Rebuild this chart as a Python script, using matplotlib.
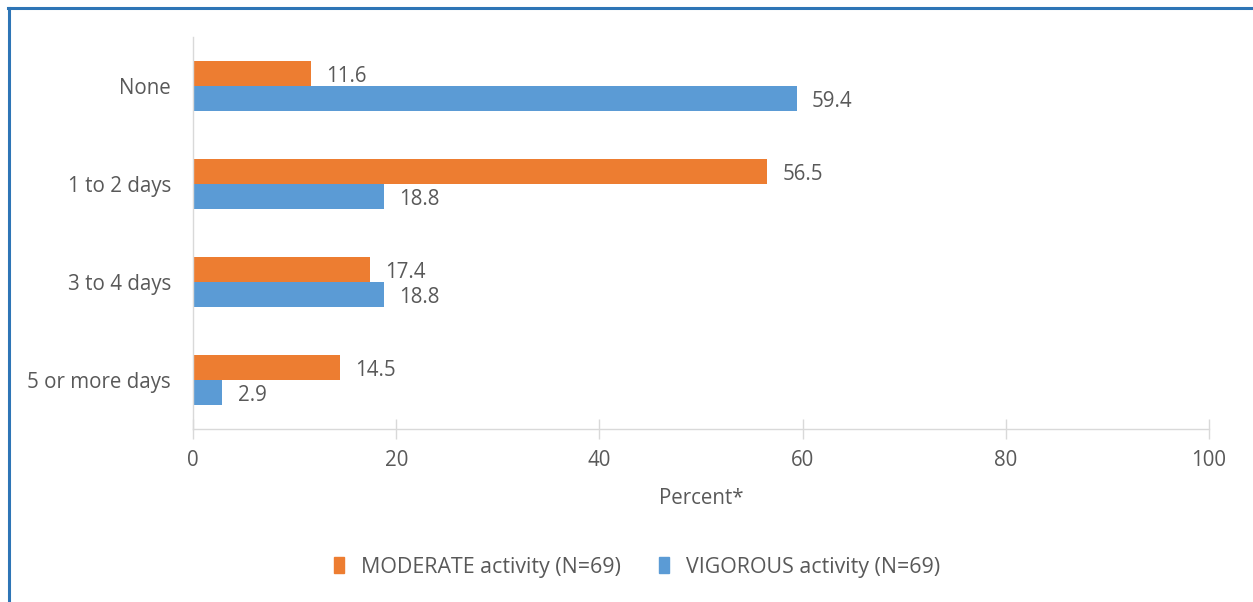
import matplotlib
matplotlib.use("Agg")
import matplotlib.pyplot as plt
import numpy as np
from matplotlib.lines import Line2D
from matplotlib.patches import Patch

categories = ["None", "1 to 2 days", "3 to 4 days", "5 or more days"]
moderate = [11.6, 56.5, 17.4, 14.5]
vigorous = [59.4, 18.8, 18.8, 2.9]
series_names = ["MODERATE activity (N=69)", "VIGOROUS activity (N=69)"]
xticks = [0, 20, 40, 60, 80, 100]

plt.rcParams['font.family'] = ['Open Sans', 'DejaVu Sans']
TXT = '#595959'
ORANGE = '#ED7D31'
BLUE = '#5B9BD5'
GRID = '#D9D9D9'
FS = 14.8

W, H = 1253, 602
fig = plt.figure(figsize=(W / 100, H / 100), dpi=100)
ax = fig.add_axes([193 / W, 1 - 429 / H, (1209 - 193) / W, (429 - 37) / H])

y = np.arange(len(categories))
h = 0.255
ax.barh(y - h / 2, moderate, height=h, color=ORANGE, label=series_names[0])
ax.barh(y + h / 2, vigorous, height=h, color=BLUE, label=series_names[1])

for yi, v in zip(y, moderate):
    ax.annotate(f"{v:.1f}", (v, yi - h / 2), xytext=(11, -2), textcoords='offset points',
                va='center', ha='left', fontsize=FS, color=TXT)
for yi, v in zip(y, vigorous):
    ax.annotate(f"{v:.1f}", (v, yi + h / 2), xytext=(11, -2), textcoords='offset points',
                va='center', ha='left', fontsize=FS, color=TXT)

ax.set_ylim(len(categories) - 0.5, -0.5)
ax.set_xlim(0, 100)
ax.set_yticks(y)
ax.set_yticklabels(categories, fontsize=FS, color=TXT)
ax.set_xticks(xticks)
ax.set_xticklabels([str(t) for t in xticks], fontsize=FS, color=TXT)
ax.tick_params(axis='y', length=0, pad=16)
ax.tick_params(axis='x', direction='inout', length=14, width=1, color=GRID, pad=8)
for s in ['top', 'right']:
    ax.spines[s].set_visible(False)
for s in ['left', 'bottom']:
    ax.spines[s].set_color(GRID)
    ax.spines[s].set_linewidth(1)
ax.set_xlabel("Percent*", fontsize=FS, color=TXT, labelpad=12)

handles = [Patch(color=ORANGE), Patch(color=BLUE)]
fig.legend(handles, series_names, loc='center', bbox_to_anchor=(637 / W, 1 - 567 / H),
           ncol=2, frameon=False, fontsize=15.4, labelcolor=TXT,
           handlelength=0.45, handleheight=0.75, handletextpad=0.8, columnspacing=1.8)

# blue frame (top and left)
fig.add_artist(Line2D([8 / W, 1], [1 - 8 / H, 1 - 8 / H], transform=fig.transFigure,
                      color='#2E75B6', linewidth=2.2))
fig.add_artist(Line2D([9 / W, 9 / W], [0, 1 - 8 / H], transform=fig.transFigure,
                      color='#2E75B6', linewidth=2.2))

fig.savefig("out.png", dpi=100)
